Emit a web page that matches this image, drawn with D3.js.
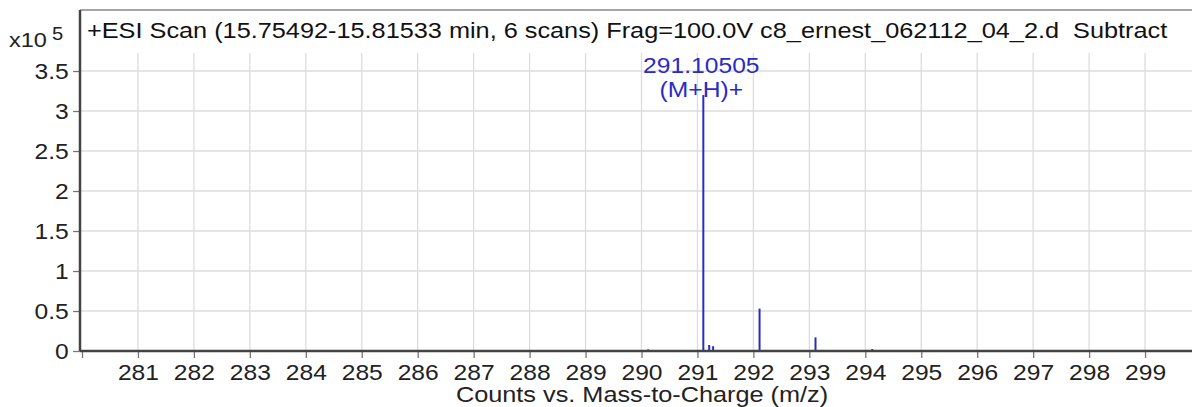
<!DOCTYPE html>
<html>
<head>
<meta charset="utf-8">
<script src="https://cdn.jsdelivr.net/npm/d3@7"></script>
<style>
  body { margin: 0; background: #fff; }
  svg { display: block; font-family: Arial, "Liberation Sans", sans-serif; }
</style>
</head>
<body>
<svg id="chart" width="1192" height="407"></svg>
<script>
// spectrum data (intensity in x10^5 counts)
const peakMz    = [290.12, 291.105, 291.21, 291.28, 291.40, 291.50, 291.60, 292.11, 293.11, 294.125];
const peakCount = [0.02,   3.2,     0.075,  0.06,   0.01,   0.008,  0.008,  0.53,   0.17,   0.025];
const xTicks = d3.range(280, 300);            // 280 has no label
const yTicks = [0, 0.5, 1, 1.5, 2, 2.5, 3, 3.5];
const titleText = "+ESI Scan (15.75492-15.81533 min, 6 scans) Frag=100.0V c8_ernest_062112_04_2.d  Subtract";
const peakLabel = ["291.10505", "(M+H)+"];
const xLabel = "Counts vs. Mass-to-Charge (m/z)";

const W = 1192, H = 407;
const plotLeft = 80, plotTop = 10, plotBottom = 351, gridTop = 53;
const stretch = 1.12; // text in the source is slightly wide

const svg = d3.select('#chart');
const x = d3.scaleLinear().domain([280, 300]).range([82, 1201]);
const y = d3.scaleLinear().domain([0, 3.5]).range([plotBottom, 71]);

// gridlines
const grid = svg.append('g').attr('stroke', '#dcdcdc').attr('stroke-width', 1.3);
grid.selectAll('line.v').data(xTicks.slice(1)).enter().append('line')
  .attr('x1', d => x(d)).attr('x2', d => x(d)).attr('y1', gridTop).attr('y2', plotBottom);
grid.selectAll('line.h').data(yTicks.slice(1)).enter().append('line')
  .attr('x1', plotLeft).attr('x2', W).attr('y1', d => y(d)).attr('y2', d => y(d));

// peaks
svg.append('g').selectAll('line').data(peakMz).enter().append('line')
  .attr('x1', d => x(d)).attr('x2', d => x(d))
  .attr('y1', y(0)).attr('y2', (d, i) => y(peakCount[i]))
  .attr('stroke', '#2b2bc4').attr('stroke-width', 2);

// axes
const xAxis = svg.append('g').attr('transform', `translate(0,${plotBottom})`)
  .call(d3.axisBottom(x).tickValues(xTicks).tickSize(7).tickPadding(6)
    .tickFormat(d => d === 280 ? '' : d));
xAxis.select('.domain').remove();
xAxis.selectAll('line').attr('stroke', '#777').attr('stroke-width', 1.3);
xAxis.selectAll('text').attr('font-size', 22).attr('fill', '#222')
  .attr('transform', `scale(${stretch},1)`);

const yAxis = svg.append('g').attr('transform', `translate(${plotLeft},0)`)
  .call(d3.axisLeft(y).tickValues(yTicks).tickSize(7).tickPadding(3).tickFormat(d => String(d)));
yAxis.select('.domain').remove();
yAxis.selectAll('line').attr('stroke', '#777').attr('stroke-width', 1.3);
yAxis.selectAll('text').attr('font-size', 22).attr('fill', '#222')
  .attr('transform', `scale(${stretch},1)`);

// frame lines
svg.append('line').attr('x1', plotLeft).attr('x2', W).attr('y1', plotTop).attr('y2', plotTop)
  .attr('stroke', '#888').attr('stroke-width', 1.5);
svg.append('line').attr('x1', plotLeft).attr('x2', plotLeft).attr('y1', plotTop).attr('y2', plotBottom)
  .attr('stroke', '#444').attr('stroke-width', 2.5);
svg.append('line').attr('x1', plotLeft).attr('x2', W).attr('y1', plotBottom).attr('y2', plotBottom)
  .attr('stroke', '#444').attr('stroke-width', 2.5);

function stretchedText(tx, ty, str, size, anchor, fill, sx = stretch) {
  return svg.append('text')
    .attr('transform', `translate(${tx},${ty}) scale(${sx},1)`)
    .attr('font-size', size).attr('text-anchor', anchor).attr('fill', fill)
    .style('white-space', 'pre').text(str);
}

// title and labels
stretchedText(87, 38, titleText, 22, 'start', '#111', 1.15);
stretchedText(9, 47, 'x10', 21, 'start', '#222');
stretchedText(52, 40, '5', 18, 'start', '#222');
stretchedText(x(291.105) - 2, 73, peakLabel[0], 22, 'middle', '#2b2bc4');
stretchedText(x(291.105) - 2, 97, peakLabel[1], 22, 'middle', '#2b2bc4');
stretchedText(642, 402, xLabel, 22, 'middle', '#222', 1.15);
</script>
</body>
</html>
